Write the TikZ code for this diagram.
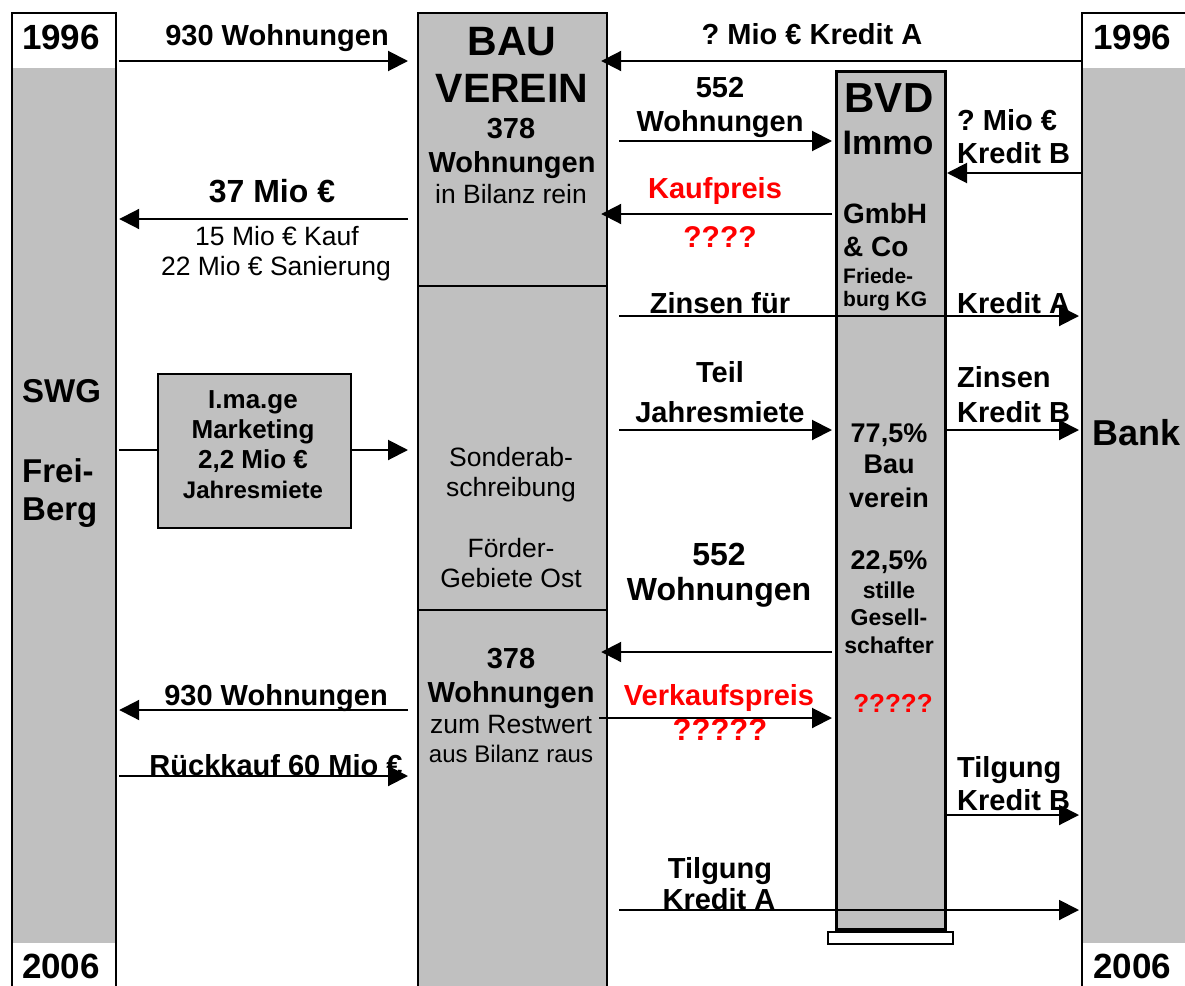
\documentclass[tikz,border=0pt]{standalone}
\usepackage{fontspec}
\setmainfont{Liberation Sans}
\usetikzlibrary{arrows.meta}
\definecolor{gr}{RGB}{192,192,192}
\definecolor{rd}{RGB}{255,0,0}
\newcommand\fz[1]{\fontsize{#1}{#1}\selectfont}
\frenchspacing
\begin{document}
\begin{tikzpicture}[x=1pt,y=-1pt,
  arr/.style={line width=2pt,-{Triangle[length=20pt,width=20pt]}},
  ln/.style={line width=2pt},
  colbox/.style={draw,line width=2.2pt,inner sep=0pt,anchor=north west},
  t/.style={anchor=base,inner sep=0pt,font=\bfseries\fz{29}},
  tl/.style={anchor=base west,inner sep=0pt,font=\bfseries\fz{29}},
  tn/.style={anchor=base,inner sep=0pt,font=\fz{26.5}},
  red/.style={text=rd}
]
\useasboundingbox (0,0) rectangle (1185,985);
\clip (0,0) rectangle (1185,985);
\fill[white] (0,0) rectangle (1185,985);

% ---- side columns
\fill[gr] (11,68) rectangle (115,943);
\node[colbox,minimum width=104pt,minimum height=1000pt] (swg) at (11,12) {};
\fill[gr] (1081,68) rectangle (1195,943);
\node[colbox,minimum width=120pt,minimum height=1000pt] (bank) at (1081,12) {};

% ---- BAU VEREIN column
\node[colbox,fill=gr,minimum width=189pt,minimum height=273pt] (bau1) at (417,12) {};
\node[colbox,fill=gr,minimum width=189pt,minimum height=324pt] (bau2) at (417,285) {};
\node[colbox,fill=gr,minimum width=189pt,minimum height=391pt] (bau3) at (417,609) {};

% ---- BVD column
\node[colbox,fill=gr,line width=3pt,minimum width=109pt,minimum height=858pt] (bvd) at (835,70) {};
\node[colbox,fill=white,minimum width=125pt,minimum height=12pt] (bvdbase) at (827,931) {};

% ---- I.ma.ge box
\node[colbox,fill=gr,line width=2pt,minimum width=193pt,minimum height=154pt] (img) at (157,373) {};

% ---- column texts
\node[t,font=\bfseries\fz{35}] (y1l) at (61,49) {1996};
\node[t,font=\bfseries\fz{35}] (y1r) at (1132,49) {1996};
\node[t,font=\bfseries\fz{35}] (y2l) at (61,978) {2006};
\node[t,font=\bfseries\fz{35}] (y2r) at (1132,978) {2006};

\node[tl,font=\bfseries\fz{33}] (swg1) at (22,402) {SWG};
\node[tl,font=\bfseries\fz{33}] (swg2) at (22,482) {Frei-};
\node[tl,font=\bfseries\fz{33}] (swg3) at (22,520) {Berg};
\node[tl,font=\bfseries\fz{36}] (bk) at (1092,445) {Bank};

\node[t,font=\bfseries\fz{41}] (bv1) at (512,55) {BAU};
\node[t,font=\bfseries\fz{41}] (bv2) at (512,102) {VEREIN};
\node[t] (bv3) at (511,138) {378};
\node[t] (bv4) at (512,172) {Wohnungen};
\node[tn] (bv5) at (511,203) {in Bilanz rein};

\node[tn] (so1) at (511,466) {Sonderab-};
\node[tn] (so2) at (511,496) {schreibung};
\node[tn] (so3) at (511,557) {Förder-};
\node[tn] (so4) at (511,587) {Gebiete Ost};

\node[t] (b31) at (511,668) {378};
\node[t] (b32) at (511,702) {Wohnungen};
\node[tn] (b33) at (511,733) {zum Restwert};
\node[tn,font=\fz{24}] (b34) at (511,762) {aus Bilanz raus};

\node[t,font=\bfseries\fz{42}] (bvd1) at (889,112) {BVD};
\node[t,font=\bfseries\fz{34}] (bvd2) at (888,154) {Immo};
\node[tl,font=\bfseries\fz{28}] (bvd3) at (843,223) {GmbH};
\node[tl,font=\bfseries\fz{28}] (bvd4) at (843,256) {\& Co};
\node[tl,font=\bfseries\fz{21}] (bvd5) at (843,283) {Friede-};
\node[tl,font=\bfseries\fz{21}] (bvd6) at (843,306) {burg KG};
\node[t,font=\bfseries\fz{27}] (p1) at (889,442) {77,5\%};
\node[t,font=\bfseries\fz{27}] (p2) at (889,473) {Bau};
\node[t,font=\bfseries\fz{27}] (p3) at (889,507) {verein};
\node[t,font=\bfseries\fz{27}] (p4) at (889,569) {22,5\%};
\node[t,font=\bfseries\fz{23}] (p5) at (889,598) {stille};
\node[t,font=\bfseries\fz{23}] (p6) at (889,625) {Gesell-};
\node[t,font=\bfseries\fz{23}] (p7) at (889,653) {schafter};
\node[t,red,font=\bfseries\fz{26}] (p8) at (893,712) {?????};

\node[t,font=\bfseries\fz{26}] (im1) at (253,408) {I.ma.ge};
\node[t,font=\bfseries\fz{26}] (im2) at (253,438) {Marketing};
\node[t,font=\bfseries\fz{26}] (im3) at (253,468) {2,2 Mio €};
\node[t,font=\bfseries\fz{24}] (im4) at (253,498) {Jahresmiete};

% ---- arrow labels
\node[t] (l1) at (277,45) {930 Wohnungen};
\node[t] (l2) at (812,44) {? Mio € Kredit A};
\node[t] (l3a) at (720,97) {552};
\node[t] (l3b) at (720,131) {Wohnungen};
\node[tl] (l4a) at (957,130) {? Mio €};
\node[tl] (l4b) at (957,163) {Kredit B};
\node[t,font=\bfseries\fz{32}] (l5) at (272,202) {37 Mio €};
\node[tn] (l5b) at (277,245) {15 Mio € Kauf};
\node[tn] (l5c) at (276,275) {22 Mio € Sanierung};
\node[t,red] (l6) at (715,198) {Kaufpreis};
\node[t,red,font=\bfseries\fz{30}] (l6b) at (720,247) {????};
\node[t] (l7) at (720,313) {Zinsen für};
\node[tl] (l7b) at (957,313) {Kredit A};
\node[t] (l8a) at (720,382) {Teil};
\node[t] (l8b) at (720,422) {Jahresmiete};
\node[tl] (l9a) at (957,387) {Zinsen};
\node[tl] (l9b) at (957,422) {Kredit B};
\node[t,font=\bfseries\fz{32}] (l11a) at (719,565) {552};
\node[t,font=\bfseries\fz{32}] (l11b) at (719,600) {Wohnungen};
\node[t] (l12) at (276,705) {930 Wohnungen};
\node[t,red] (l13) at (719,705) {Verkaufspreis};
\node[t,red,font=\bfseries\fz{31}] (l13b) at (720,740) {?????};
\node[t] (l14) at (276,775) {Rückkauf 60 Mio €};
\node[tl] (l15a) at (957,777) {Tilgung};
\node[tl] (l15b) at (957,810) {Kredit B};
\node[t] (l16a) at (720,878) {Tilgung};
\node[t] (l16b) at (719,909) {Kredit A};

% ---- arrows
\draw[arr] ([xshift=2pt]swg.east|-0,61) -- ([xshift=-9pt]bau1.west|-0,61);
\draw[arr] (bank.west|-0,61) -- ([xshift=-7pt]bau1.east|-0,61);
\draw[arr] ([xshift=11pt]bau1.east|-0,141) -- ([xshift=-3pt]bvd.west|-0,141);
\draw[arr] (bank.west|-0,173) -- (bvd.east|-0,173);
\draw[arr] ([xshift=-9pt]bau1.west|-0,219) -- ([xshift=2pt]swg.east|-0,219);
\draw[arr] ([xshift=-3pt]bvd.west|-0,214) -- ([xshift=-7pt]bau1.east|-0,214);
\draw[arr] ([xshift=11pt]bau2.east|-0,316) -- ([xshift=-2pt]bank.west|-0,316);
\draw[arr] ([xshift=11pt]bau2.east|-0,430) -- ([xshift=-3pt]bvd.west|-0,430);
\draw[arr] (bvd.east|-0,430) -- ([xshift=-2pt]bank.west|-0,430);
\draw[ln] ([xshift=2pt]swg.east|-0,450) -- (img.west|-0,450);
\draw[arr] (img.east|-0,450) -- ([xshift=-9pt]bau2.west|-0,450);
\draw[arr] ([xshift=-3pt]bvd.west|-0,652) -- ([xshift=-7pt]bau3.east|-0,652);
\draw[arr] ([xshift=-9pt]bau3.west|-0,710) -- ([xshift=2pt]swg.east|-0,710);
\draw[arr] ([xshift=-9pt]bau3.east|-0,718) -- ([xshift=-3pt]bvd.west|-0,718);
\draw[arr] ([xshift=2pt]swg.east|-0,776) -- ([xshift=-9pt]bau3.west|-0,776);
\draw[arr] (bvd.east|-0,815) -- ([xshift=-2pt]bank.west|-0,815);
\draw[arr] ([xshift=11pt]bau3.east|-0,910) -- ([xshift=-2pt]bank.west|-0,910);
\end{tikzpicture}
\end{document}
